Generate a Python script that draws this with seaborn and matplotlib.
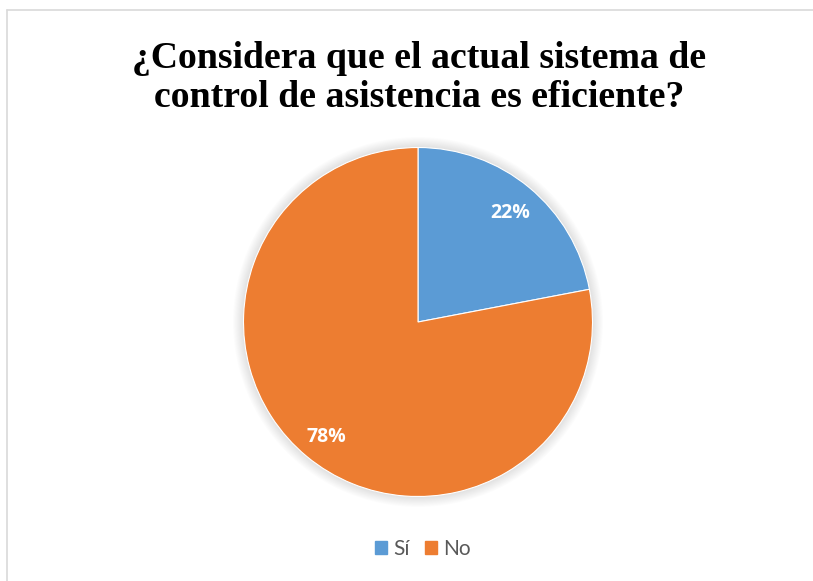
import matplotlib
matplotlib.use("Agg")
import matplotlib.pyplot as plt
import seaborn as sns
from matplotlib.patches import Circle, Rectangle
from matplotlib.lines import Line2D

sns.set_theme(style="white")

title = "¿Considera que el actual sistema de\ncontrol de asistencia es eficiente?"
categories = ["Sí", "No"]
values = [22, 78]
colors = ["#5B9BD5", "#ED7D31"]

fig = plt.figure(figsize=(8.13, 5.81), dpi=100)
fig.patch.set_facecolor("white")

# chart frame (top and left border visible)
fig.add_artist(Line2D([6.5/813, 1.0], [1 - 9.5/581, 1 - 9.5/581], color="#D9D9D9", lw=1.2))
fig.add_artist(Line2D([6.5/813, 6.5/813], [0.0, 1 - 9.5/581], color="#D9D9D9", lw=1.2))

cx, cy, r = 418/813, 1 - 322/581, 174.5
w, h = 2*r/813, 2*r/581
ax = fig.add_axes([cx - w/2*1.08, cy - h/2*1.08, w*1.08, h*1.08])
ax.set_aspect("equal")

# soft shadow
for i in range(10):
    ax.add_patch(Circle((0, 0), 1 + (10 - i) * 0.006, color="#000000", alpha=0.012, lw=0, zorder=0))

wedges, _ = ax.pie(values, colors=colors, startangle=90, counterclock=False,
                   radius=1, wedgeprops=dict(linewidth=0.8, edgecolor="white"))
for w_ in wedges:
    w_.set_zorder(2)

label_pos = [(510, 213), (326, 437)]
for (px, py), v in zip(label_pos, values):
    x = (px - 418) / r
    y = -(py - 322) / r
    ax.text(x, y, f"{v}%", ha="center", va="center", color="white",
            fontsize=14, fontweight="bold", family="Open Sans", zorder=5)
ax.set_xlim(-1.08, 1.08)
ax.set_ylim(-1.08, 1.08)
ax.axis("off")

fig.text(419/813, 1 - 78/581, title, ha="center", va="center",
         fontsize=27.2, fontweight="bold", family="Liberation Serif",
         linespacing=1.17, color="black")

handles = [Rectangle((0, 0), 1, 1, color=c) for c in colors]
leg = fig.legend(handles, categories, loc="center", bbox_to_anchor=(423/813, 1 - 549/581),
                 ncol=2, frameon=False, handlelength=0.6, handleheight=0.6,
                 handletextpad=0.3, columnspacing=0.7,
                 prop=dict(family="Lato", size=15))
for t in leg.get_texts():
    t.set_color("#595959")

fig.savefig("out.png", dpi=100, facecolor="white")
